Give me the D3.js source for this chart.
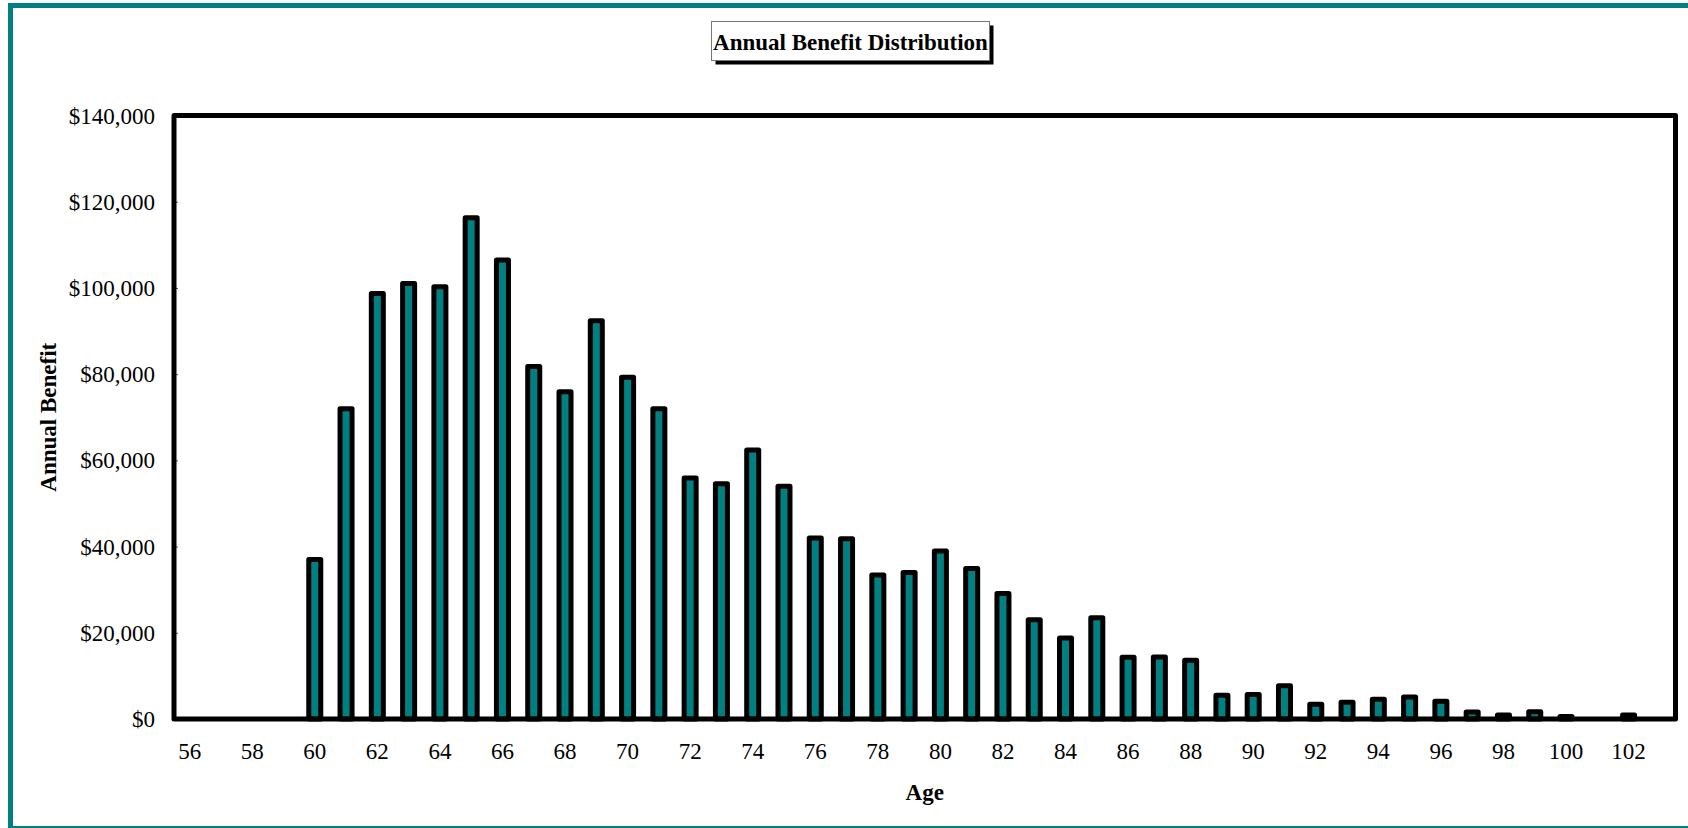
<!DOCTYPE html>
<html>
<head>
<meta charset="utf-8">
<script src="https://cdn.jsdelivr.net/npm/d3@7"></script>
<style>
  html, body { margin: 0; padding: 0; background: #fff; }
  svg { display: block; }
  text { font-family: "Liberation Serif", "Times New Roman", serif; fill: #000; }
</style>
</head>
<body>
<svg id="chart" width="1688" height="828"></svg>
<script>
// Annual benefit paid out, by age of the recipient
const ages = d3.range(56, 104);
const benefits = [
  0, 0, 0, 0,                 // 56-59
  37000, 72000, 98700, 101000, 100300, 116300, 106500, 81800, 75900, 92400, // 60-69
  79300, 72000, 55900, 54600, 62400, 54000, 42000, 41800, 33400, 34000,     // 70-79
  39000, 34900, 29100, 23000, 18800, 23500, 14300, 14400, 13600, 5500,      // 80-89
  5700, 7700, 3400, 3900, 4600, 5100, 4100, 1600, 900, 1700,                // 90-99
  600, 0, 900, 0              // 100-103
];
const yTicks = d3.range(0, 140001, 20000);
const xLabelAges = ages.filter(a => a % 2 === 0);

const svg = d3.select("#chart");
const teal = "#008080";
const fontSize = 23;
const serif = "Liberation Serif, Times New Roman, serif";

// outer frame
svg.append("rect")
  .attr("x", 10.5).attr("y", 5.5)
  .attr("width", 1700).attr("height", 823)
  .attr("fill", "none").attr("stroke", teal).attr("stroke-width", 5);

const plot = { left: 174, right: 1675.5, top: 115.5, bottom: 719 };

const x = d3.scaleBand()
  .domain(ages)
  .range([plot.left, plot.right])
  .paddingInner(0.616)
  .paddingOuter(0.308);

const y = d3.scaleLinear()
  .domain([0, 140000])
  .range([plot.bottom, plot.top]);

// y tick marks (inside the plot) and labels
const yAxis = d3.axisLeft(y)
  .tickValues(yTicks)
  .tickSize(-4)
  .tickPadding(19)
  .tickFormat(d3.format("$,"));
const gy = svg.append("g")
  .attr("transform", `translate(${plot.left},0)`)
  .call(yAxis);
gy.select(".domain").remove();
gy.selectAll(".tick line").attr("stroke", "#555").attr("stroke-width", 1);
gy.selectAll(".tick text")
  .attr("font-size", fontSize)
  .attr("font-family", serif)
  .attr("dy", "0.33em");

// bars
svg.append("g")
  .selectAll("rect")
  .data(ages.map((a, i) => ({ age: a, v: benefits[i] })).filter(d => d.v > 0))
  .join("rect")
  .attr("x", d => x(d.age))
  .attr("y", d => y(d.v))
  .attr("width", x.bandwidth())
  .attr("height", d => y(0) - y(d.v))
  .attr("fill", teal)
  .attr("stroke", "#000")
  .attr("stroke-width", 5)
  .attr("stroke-linejoin", "round");

// plot area frame
svg.append("rect")
  .attr("x", plot.left).attr("y", plot.top)
  .attr("width", plot.right - plot.left)
  .attr("height", plot.bottom - plot.top)
  .attr("fill", "none").attr("stroke", "#000")
  .attr("stroke-width", 5).attr("stroke-linejoin", "round");

// x labels (every second age)
const xAxis = d3.axisBottom(x)
  .tickValues(xLabelAges)
  .tickSize(0)
  .tickPadding(24);
const gx = svg.append("g")
  .attr("transform", `translate(0,${plot.bottom})`)
  .call(xAxis);
gx.select(".domain").remove();
gx.selectAll(".tick text")
  .attr("font-size", fontSize)
  .attr("font-family", serif)
  .attr("dy", "0.71em");

// axis titles
svg.append("text")
  .attr("x", (plot.left + plot.right) / 2).attr("y", 800)
  .attr("text-anchor", "middle")
  .attr("font-size", fontSize).attr("font-weight", "bold")
  .text("Age");

svg.append("text")
  .attr("transform", `translate(56,${(plot.top + plot.bottom) / 2}) rotate(-90)`)
  .attr("text-anchor", "middle")
  .attr("font-size", fontSize).attr("font-weight", "bold")
  .text("Annual Benefit");

// title with drop shadow box
const title = { x: 711.5, y: 21.5, w: 278, h: 39 };
svg.append("rect")
  .attr("x", title.x + 4).attr("y", title.y + 4)
  .attr("width", title.w).attr("height", title.h)
  .attr("fill", "#000");
svg.append("rect")
  .attr("x", title.x).attr("y", title.y)
  .attr("width", title.w).attr("height", title.h)
  .attr("fill", "#fff").attr("stroke", "#777").attr("stroke-width", 1);
svg.append("text")
  .attr("x", title.x + title.w / 2).attr("y", 49.5)
  .attr("text-anchor", "middle")
  .attr("font-size", fontSize).attr("font-weight", "bold")
  .text("Annual Benefit Distribution");
</script>
</body>
</html>
